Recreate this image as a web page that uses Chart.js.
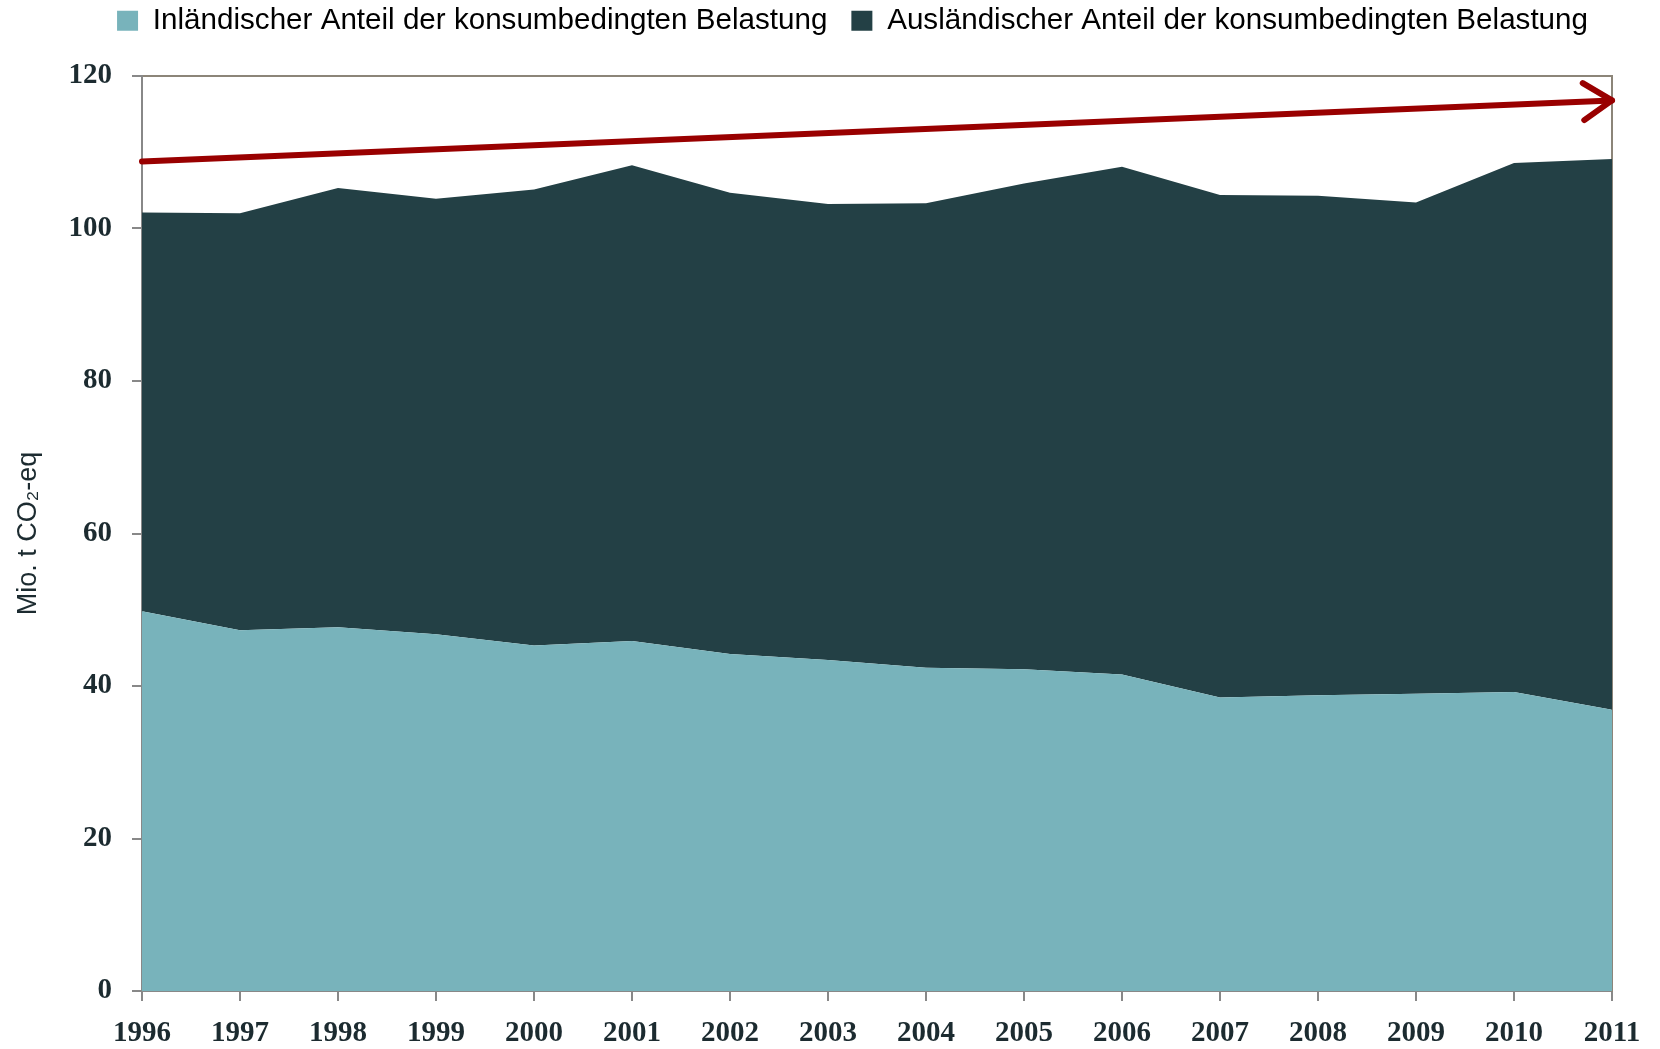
<!DOCTYPE html>
<html>
<head>
<meta charset="utf-8">
<script src="https://cdn.jsdelivr.net/npm/chart.js@4.4.1/dist/chart.umd.min.js"></script>
<style>
  html, body { margin: 0; padding: 0; background: #ffffff; }
  #wrap { width: 1660px; height: 1049px; position: relative; }
</style>
</head>
<body>
<div id="wrap"><canvas id="c" width="1660" height="1049"></canvas></div>
<script>
// ---- Data ----
const years = ["1996","1997","1998","1999","2000","2001","2002","2003","2004","2005","2006","2007","2008","2009","2010","2011"];
const inlandShare  = [49.8, 47.3, 47.7, 46.8, 45.3, 45.9, 44.2, 43.4, 42.4, 42.2, 41.5, 38.5, 38.8, 39.0, 39.2, 36.9];
const foreignShare = [52.3, 54.7, 57.6, 57.1, 59.8, 62.4, 60.5, 59.8, 60.9, 63.7, 66.6, 65.9, 65.5, 64.4, 69.4, 72.2];
const trendStart = 108.8;
const trendEnd = 116.8;
const seriesNames = ["Inländischer Anteil der konsumbedingten Belastung", "Ausländischer Anteil der konsumbedingten Belastung"];
const yTitle = "Mio. t CO\u2082-eq";
const yMin = 0, yMax = 120, yStep = 20;

const trendLine = years.map((y, i) => i === 0 ? trendStart : (i === years.length - 1 ? trendEnd : null));

const LAYOUT_TOP = -18;   // legend row pulled up; item spacing uses the label padding
const PLOT_TOP = 76;

const arrowHead = {
  id: 'arrowHead',
  afterDatasetsDraw(chart) {
    const meta = chart.getDatasetMeta(2);
    if (!meta || !meta.data.length) return;
    const p0 = meta.data[0], p1 = meta.data[meta.data.length - 1];
    const ang = Math.atan2(p1.y - p0.y, p1.x - p0.x);
    const len = 34, spread = Math.PI / 180 * 33;
    const ctx = chart.ctx;
    ctx.save();
    ctx.strokeStyle = '#990000';
    ctx.lineWidth = 6;
    ctx.lineCap = 'round';
    ctx.lineJoin = 'round';
    ctx.beginPath();
    ctx.moveTo(p1.x - len * Math.cos(ang - spread), p1.y - len * Math.sin(ang - spread));
    ctx.lineTo(p1.x, p1.y);
    ctx.lineTo(p1.x - len * Math.cos(ang + spread), p1.y - len * Math.sin(ang + spread));
    ctx.stroke();
    ctx.restore();
  }
};

const tickFont = { family: "'Liberation Serif', 'DejaVu Serif', serif", size: 29, weight: 'bold' };
const textColor = '#1c2b30';

new Chart(document.getElementById('c'), {
  type: 'line',
  data: {
    labels: years,
    datasets: [
      { label: seriesNames[0], data: inlandShare, stack: 'co2', fill: 'origin',
        backgroundColor: '#78b3bb', borderWidth: 0, pointRadius: 0, tension: 0, order: 2 },
      { label: seriesNames[1], data: foreignShare, stack: 'co2', fill: '-1',
        backgroundColor: '#234045', borderWidth: 0, pointRadius: 0, tension: 0, order: 2 },
      { label: 'trend', data: trendLine, stack: 'trend', fill: false, spanGaps: true,
        borderColor: '#990000', borderWidth: 6, borderCapStyle: 'round', pointRadius: 0, tension: 0, clip: false, order: 0 }
    ]
  },
  options: {
    responsive: false,
    animation: false,
    layout: { padding: { top: LAYOUT_TOP, right: 48, bottom: 0, left: 0 } },
    plugins: {
      tooltip: { enabled: false },
      legend: {
        position: 'top',
        align: 'end',
        labels: {
          filter: (item) => item.datasetIndex < 2,
          boxWidth: 21, boxHeight: 20, padding: 24,
          color: '#1c2b30',
          font: { family: "'Liberation Sans', Arial, sans-serif", size: 29.6 },
          generateLabels(chart) {
            return chart.data.datasets.slice(0, 2).map((ds, i) => ({
              text: ds.label, fillStyle: ds.backgroundColor, strokeStyle: ds.backgroundColor,
              lineWidth: 0, datasetIndex: i, hidden: false
            }));
          }
        }
      }
    },
    scales: {
      x: {
        type: 'category',
        offset: false,
        afterFit(scale) { scale.height = 58; },
        grid: { display: true, drawOnChartArea: false, drawTicks: true, tickLength: 10, color: '#888888', lineWidth: 2, offset: false },
        border: { display: true, color: '#888888', width: 2 },
        ticks: { color: textColor, font: tickFont, padding: 15, maxRotation: 0, autoSkip: false }
      },
      x2: {
        type: 'category',
        position: 'top',
        offset: false,
        afterFit(scale) {
          const lg = scale.chart.legend;
          scale.height = Math.max(0, PLOT_TOP - LAYOUT_TOP - (lg ? lg.height : 0));
        },
        grid: { display: false, drawTicks: false },
        border: { display: true, color: '#8c8579', width: 2 },
        ticks: { display: false }
      },
      y: {
        stacked: true,
        min: yMin, max: yMax,
        afterFit(scale) { scale.width = 142; },
        ticks: { stepSize: yStep, color: textColor, font: tickFont, padding: 20 },
        grid: { display: true, drawOnChartArea: false, drawTicks: true, tickLength: 10, color: '#888888', lineWidth: 2 },
        border: { display: true, color: '#888888', width: 2 },
        title: { display: true, text: yTitle, color: textColor,
          font: { family: "'Liberation Sans', Arial, sans-serif", size: 27 }, padding: { top: 12, bottom: 0 } }
      },
      y2: {
        position: 'right',
        min: yMin, max: yMax,
        afterFit(scale) { scale.width = 0; },
        grid: { display: false, drawTicks: false },
        border: { display: true, color: '#8c8579', width: 2 },
        ticks: { display: false }
      }
    }
  },
  plugins: [arrowHead]
});
</script>
</body>
</html>
